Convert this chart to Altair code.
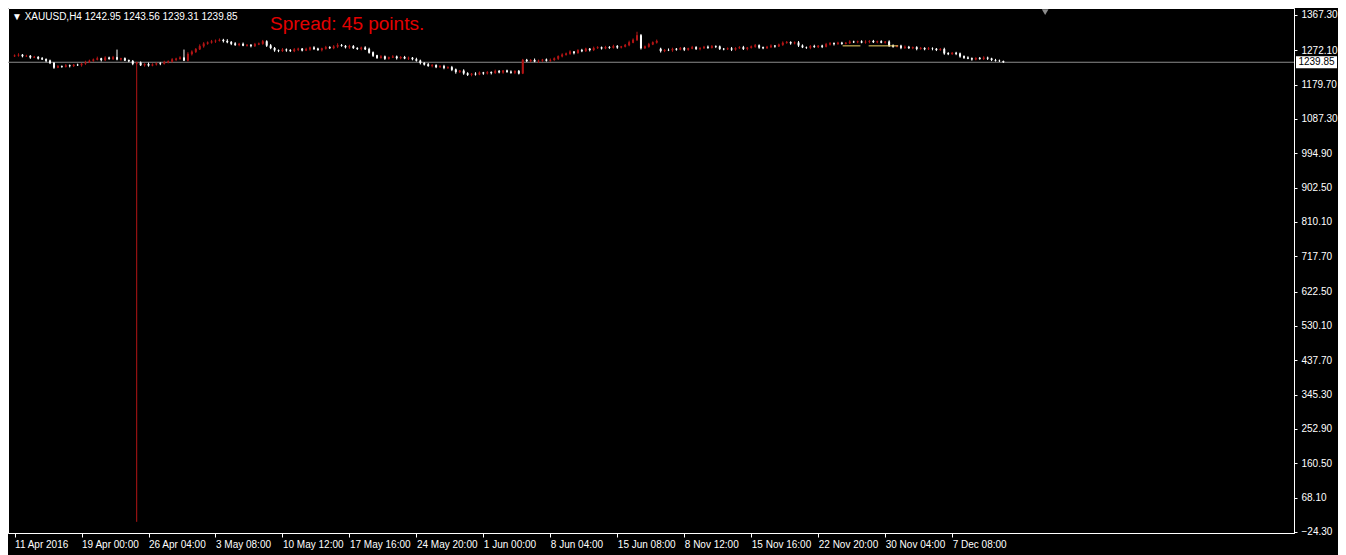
import altair as alt
import pandas as pd

# ---------------- data ----------------
closes = [
    1258, 1260, 1256, 1257, 1253, 1254, 1250, 1248, 1244, 1238,
    1226, 1229, 1228, 1231, 1230, 1233, 1232, 1236, 1240, 1244,
    1247, 1250, 1246, 1252, 1249, 1253, 1248, 1250, 1245, 1243,
    1236, 1239, 1232, 1235, 1231, 1234, 1237, 1236, 1240, 1242,
    1247, 1249, 1252, 1245, 1262, 1268, 1275, 1283, 1290, 1293,
    1296, 1298, 1300, 1297, 1294, 1290, 1287, 1289, 1285, 1286,
    1284, 1288, 1290, 1296, 1285, 1278, 1272, 1270, 1274, 1272,
    1270, 1274, 1276, 1272, 1275, 1279, 1276, 1273, 1277, 1280,
    1278, 1282, 1286, 1284, 1280, 1283, 1278, 1276, 1279, 1275,
    1266, 1258, 1252, 1255, 1250, 1253, 1255, 1251, 1254, 1250,
    1252, 1248, 1244, 1238, 1234, 1230, 1232, 1227, 1229, 1225,
    1226, 1220, 1214, 1217, 1210, 1206, 1209, 1207, 1212, 1210,
    1213, 1211, 1216, 1213, 1217, 1214, 1212, 1216, 1210, 1246,
    1243, 1246, 1242, 1244, 1247, 1244, 1246, 1250, 1256, 1260,
    1263, 1268, 1265, 1272, 1270, 1276, 1273, 1278, 1280, 1277,
    1281, 1279, 1283, 1280, 1282, 1286, 1293, 1300, 1312, 1278,
    1282, 1288, 1293, 1297, 1270, 1273, 1272, 1276, 1274, 1278,
    1274, 1277, 1280, 1276, 1278, 1281, 1279, 1283, 1282, 1276,
    1275, 1277, 1274, 1278, 1280, 1276, 1279, 1282, 1285, 1280,
    1278, 1281, 1284, 1283, 1287, 1292, 1294, 1291, 1293, 1285,
    1280, 1279, 1283, 1281, 1284, 1282, 1288, 1291, 1289, 1292,
    1290, 1292, 1295, 1294, 1296, 1293, 1295, 1297, 1294, 1296,
    1293, 1295, 1285, 1282, 1284, 1279, 1281, 1278, 1280, 1276,
    1278, 1275, 1277, 1276, 1273, 1275, 1264, 1262, 1265, 1263,
    1256, 1252, 1250, 1248, 1251, 1249, 1252, 1250, 1246, 1244,
    1242.95, 1239.85,
]
# estimated wick lengths above / below the body (price units)
wick_up = [
    3, 4, 2, 3, 2, 3, 2, 4, 2, 3,
    2, 3, 2, 4, 3, 2, 3, 2, 4, 3,
    3, 5, 2, 4, 3, 4, 3, 2, 3, 2,
    3, 2, 3, 2, 4, 3, 2, 3, 4, 3,
    4, 3, 4, 3, 5, 4, 3, 5, 4, 3,
    4, 3, 4, 3, 5, 3, 4, 3, 4, 3,
    3, 4, 3, 4, 3, 4, 3, 2, 4, 3,
    3, 4, 3, 2, 4, 3, 4, 3, 2, 4,
    3, 4, 5, 3, 2, 4, 3, 2, 3, 4,
    4, 3, 2, 4, 3, 2, 4, 3, 2, 3,
    3, 2, 4, 3, 2, 4, 3, 2, 3, 4,
    3, 4, 3, 2, 4, 3, 2, 4, 3, 2,
    3, 2, 4, 3, 2, 3, 4, 2, 3, 3,
    3, 2, 4, 3, 2, 3, 4, 3, 2, 4,
    3, 4, 2, 3, 4, 3, 2, 4, 3, 2,
    3, 2, 4, 3, 2, 3, 5, 4, 6, 4,
    3, 4, 3, 4, 3, 2, 4, 3, 2, 3,
    3, 2, 4, 3, 2, 3, 4, 3, 2, 3,
    2, 3, 4, 2, 3, 4, 2, 3, 4, 3,
    2, 3, 4, 2, 3, 4, 3, 2, 3, 4,
    3, 2, 3, 4, 2, 3, 4, 3, 2, 3,
    3, 2, 4, 3, 2, 3, 4, 2, 3, 2,
    3, 2, 4, 3, 2, 3, 4, 3, 2, 3,
    3, 2, 4, 3, 2, 3, 4, 3, 2, 3,
    3, 2, 4, 3, 2, 3, 4, 3, 2, 3,
    3, 2,
]
wick_dn = [
    2, 3, 3, 2, 4, 2, 3, 2, 4, 3,
    4, 2, 3, 2, 4, 3, 2, 4, 3, 2,
    3, 2, 4, 3, 2, 3, 3, 4, 2, 3,
    4, 3, 2, 4, 3, 2, 3, 4, 2, 3,
    3, 4, 2, 3, 3, 4, 3, 2, 4, 3,
    3, 4, 2, 4, 3, 4, 3, 4, 2, 3,
    4, 3, 2, 3, 4, 3, 4, 3, 2, 4,
    2, 3, 4, 3, 2, 4, 3, 2, 4, 3,
    2, 3, 4, 2, 3, 4, 2, 3, 4, 2,
    3, 4, 3, 2, 4, 3, 2, 4, 3, 2,
    4, 3, 2, 4, 3, 2, 4, 3, 2, 4,
    3, 4, 5, 3, 4, 3, 4, 3, 2, 4,
    3, 4, 2, 3, 4, 2, 3, 4, 3, 2,
    2, 3, 2, 4, 3, 2, 3, 2, 4, 3,
    2, 3, 4, 2, 3, 2, 4, 3, 2, 3,
    2, 3, 2, 4, 3, 2, 3, 2, 3, 4,
    2, 3, 2, 3, 4, 3, 2, 4, 3, 2,
    4, 3, 2, 3, 4, 2, 3, 2, 4, 3,
    3, 2, 4, 3, 2, 3, 4, 2, 3, 4,
    3, 2, 3, 4, 2, 3, 2, 4, 3, 4,
    2, 3, 4, 2, 3, 4, 2, 3, 4, 2,
    3, 2, 3, 2, 3, 2, 3, 4, 2, 3,
    2, 3, 4, 3, 2, 4, 3, 2, 3, 4,
    2, 3, 2, 4, 3, 2, 4, 3, 2, 4,
    4, 3, 2, 4, 3, 2, 3, 4, 3, 2,
    2, 0,
]
first_open = 1256.0
open_override = {164: 1276.0}          # gap in history (15 Jun -> 8 Nov)
wick_high = {26: 1274, 43: 1274, 52: 1304, 63: 1300, 158: 1322, 251: 1243.56}
wick_low = {31: 3, 43: 1243, 251: 1239.31}

x_ticks = [0, 17, 34, 51, 68, 85, 102, 119, 136, 153, 170, 187, 204, 221, 238]
x_labels = ["11 Apr 2016", "19 Apr 00:00", "26 Apr 04:00", "3 May 08:00",
            "10 May 12:00", "17 May 16:00", "24 May 20:00", "1 Jun 00:00",
            "8 Jun 04:00", "15 Jun 08:00", "8 Nov 12:00", "15 Nov 16:00",
            "22 Nov 20:00", "30 Nov 04:00", "7 Dec 08:00"]
y_ticks = [1367.30, 1272.10, 1179.70, 1087.30, 994.90, 902.50, 810.10, 717.70,
           622.50, 530.10, 437.70, 345.30, 252.90, 160.50, 68.10, -24.30]

bid_price = 1239.85
header = "\u25BC XAUUSD,H4  1242.95 1243.56 1239.31 1239.85"
spread_text = "Spread: 45 points."
yellow_from = [210.2, 216.8]
yellow_to = [214.7, 224.3]
yellow_price = [1284, 1284]
shift_marker_bar = [261.6]
shift_marker_price = [1375]

# ---------------- build table ----------------
n = len(closes)
opens = [first_open] + closes[:-1]
for k, v in open_override.items():
    opens[k] = v
highs = [max(o, c) + u for o, c, u in zip(opens, closes, wick_up)]
lows = [min(o, c) - d for o, c, d in zip(opens, closes, wick_dn)]
for k, v in wick_high.items():
    highs[k] = v
for k, v in wick_low.items():
    lows[k] = v
df = pd.DataFrame({"i": list(range(n)), "open": opens, "close": closes,
                   "high": highs, "low": lows})
df["dir"] = ["up" if c >= o else "down" for o, c in zip(opens, closes)]

RED = "#b41616"
WHITE = "#ffffff"
FONT = "Liberation Sans"
PLOT_W = 1286
PLOT_H = 525

xscale = alt.Scale(domain=[-0.4, 323.5], nice=False, zero=False)
yscale = alt.Scale(domain=[-27.1, 1385.9], nice=False, zero=False)
cscale = alt.Scale(domain=["up", "down"], range=[RED, WHITE])

label_expr = ("[" + ",".join("'%s'" % s for s in x_labels) + "][indexof(["
              + ",".join(str(t) for t in x_ticks) + "], datum.value)]")

x_axis = alt.Axis(values=x_ticks, labelExpr=label_expr, labelAlign="left",
                  labelFlush=False, labelOverlap=False, labelBound=False,
                  tickSize=4, labelPadding=2, title=None, grid=False)
y_axis = alt.Axis(orient="right", values=y_ticks, format=".2f", tickSize=3,
                  labelPadding=4, labelFlush=False, labelOverlap=False,
                  title=None, grid=False)


def X(f):
    return alt.X(f, type="quantitative", scale=xscale, axis=x_axis)


def Y(f):
    return alt.Y(f, type="quantitative", scale=yscale, axis=y_axis)


bid = alt.Chart(pd.DataFrame({"p": [bid_price]})).mark_rule(
    color="#8c8c8c", strokeWidth=1).encode(y=Y("p"))

wicks = alt.Chart(df).mark_rule(strokeWidth=1).encode(
    x=X("i"), y=Y("low"), y2="high",
    color=alt.Color("dir:N", scale=cscale, legend=None),
)

bodies = alt.Chart(df).mark_bar(size=1, strokeWidth=1).encode(
    x=X("i"), y=Y("open"), y2="close",
    color=alt.Color("dir:N", scale=cscale, legend=None),
    stroke=alt.Stroke("dir:N", scale=cscale, legend=None),
)

yellow = alt.Chart(pd.DataFrame({"a": yellow_from, "b": yellow_to,
                                 "p": yellow_price})).mark_rule(
    color="#f0d264", strokeWidth=1).encode(x=X("a"), x2="b", y=Y("p"))

marker = alt.Chart(pd.DataFrame({"i": shift_marker_bar,
                                 "p": shift_marker_price})).mark_point(
    shape="triangle-down", filled=True, size=45, color="#8c8c8c",
    opacity=1).encode(x=X("i"), y=Y("p"))

head = alt.Chart(pd.DataFrame({"t": [header]})).mark_text(
    align="left", baseline="alphabetic", color=WHITE, font=FONT,
    fontSize=10).encode(x=alt.value(4), y=alt.value(12), text="t:N")

spread = alt.Chart(pd.DataFrame({"t": [spread_text]})).mark_text(
    align="left", baseline="alphabetic", color="#e30000", font=FONT,
    fontSize=19).encode(x=alt.value(262), y=alt.value(22), text="t:N")

box_df = pd.DataFrame({"p": [bid_price], "t": ["%.2f" % bid_price]})
box = alt.Chart(box_df).mark_rect(color=WHITE, yOffset=-6, y2Offset=6,
                                  clip=False).encode(
    x=alt.value(PLOT_W + 2), x2=alt.value(PLOT_W + 43),
    y=Y("p"), y2="p")
box_txt = alt.Chart(box_df).mark_text(
    align="center", baseline="middle", color="#000000", font=FONT,
    fontSize=10).encode(x=alt.value(PLOT_W + 22.5), y=Y("p"), text="t:N")

chart = alt.layer(bid, wicks, bodies, yellow, marker, head, spread, box,
                  box_txt).properties(
    width=PLOT_W, height=PLOT_H,
    autosize=alt.AutoSizeParams(type="none"),
    padding={"left": 0, "top": 0, "right": 44, "bottom": 22},
    background="#000000",
).configure_view(stroke=WHITE, strokeWidth=1).configure_axis(
    labelColor=WHITE, tickColor=WHITE, domainColor=WHITE, labelFont=FONT,
    labelFontSize=10, domainWidth=1, tickWidth=1)

chart.save("out.html", embed_options={"renderer": "svg", "actions": False})
